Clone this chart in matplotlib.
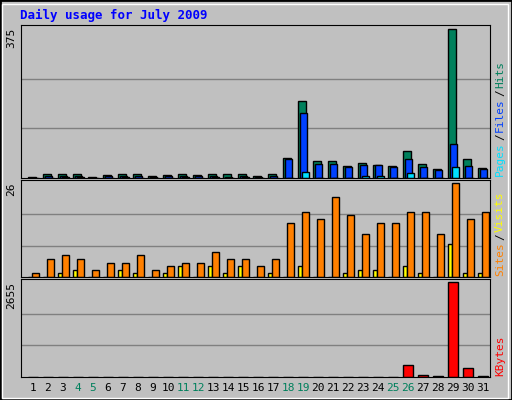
import matplotlib.pyplot as plt
from matplotlib.patches import Rectangle

days = list(range(1, 32))
hits = [3, 10, 10, 10, 3, 8, 10, 10, 5, 8, 10, 8, 10, 10, 10, 5, 10, 51, 194, 43,
        43, 31, 38, 33, 31, 69, 36, 23, 375, 48, 26]
files = [1, 5, 4, 4, 1, 5, 4, 4, 2, 4, 4, 5, 4, 3, 4, 2, 4, 48, 163, 36,
         36, 28, 33, 33, 28, 48, 28, 20, 87, 31, 23]
pages = [0, 1, 2, 2, 0, 1, 2, 1, 0, 1, 3, 1, 3, 1, 3, 1, 1, 1, 15, 1,
         1, 1, 5, 5, 1, 13, 1, 1, 28, 1, 1]
sites = [1, 5, 6, 5, 2, 4, 4, 6, 2, 3, 4, 4, 7, 5, 5, 3, 5, 15, 18, 16,
         22, 17, 12, 15, 15, 18, 18, 12, 26, 16, 18]
visits = [0, 0, 1, 2, 0, 0, 2, 1, 0, 1, 3, 0, 3, 1, 3, 0, 1, 0, 3, 0,
          0, 1, 2, 2, 0, 3, 1, 0, 9, 1, 1]
kbytes = [0] * 25 + [329, 58, 29, 2655, 242, 29]
weekends = [4, 5, 11, 12, 18, 19, 25, 26]

W, H = 512, 400
fig = plt.figure(figsize=(5.12, 4.0), dpi=100)
fig.patch.set_facecolor('#C0C0C0')
fig.patches.append(Rectangle((0, 0), 1, 1, transform=fig.transFigure, fill=False,
                             edgecolor='black', lw=2))
fig.patches.append(Rectangle((2/W, 2/H), 1 - 6/W, 1 - 6/H, transform=fig.transFigure,
                             fill=False, edgecolor='white', lw=1))
mono = 'DejaVu Sans Mono'

def panel(top, bottom):
    ax = fig.add_axes([21/W, 1 - bottom/H, (490-21)/W, (bottom-top)/H])
    ax.set_facecolor('#C0C0C0')
    ax.set_xlim(0.2, 31.47)
    ax.set_xticks([])
    ax.set_yticks([])
    for s in ax.spines.values():
        s.set_color('black')
    return ax

def grid(ax, vmax):
    for f in (1/3, 2/3):
        ax.axhline(vmax * f, color='#808080', lw=1, zorder=0)
    ax.set_ylim(0, vmax * 1.03)

ax1 = panel(25, 178)
grid(ax1, 375)
kw = dict(edgecolor='black', lw=1, align='edge')
ax1.bar([d - 0.3 for d in days], hits, 0.47, color='#00805C', **kw)
ax1.bar([d - 0.17 for d in days], files, 0.47, color='#0040FF', **kw)
ax1.bar([d - 0.04 for d in days], pages, 0.47, color='#00E0FF', **kw)

ax2 = panel(180, 277)
grid(ax2, 26)
ax2.bar([d - 0.35 for d in days], visits, 0.27, color='#FFFF00', **kw)
ax2.bar([d - 0.08 for d in days], sites, 0.47, color='#FF8000', **kw)

ax3 = panel(279, 377)
grid(ax3, 2655)
ax3.bar([d - 0.33 for d in days], kbytes, 0.67, color='#FF0000', **kw)
ax3.set_xticks(days)
ax3.set_xticklabels([str(d) for d in days], fontsize=8, family=mono)
ax3.tick_params(length=0, pad=4)
for lbl, d in zip(ax3.get_xticklabels(), days):
    lbl.set_color('#00805C' if d in weekends else 'black')

fig.text(20/W, 1 - 15/H, 'Daily usage for July 2009', color='#0000FF',
         fontsize=9, weight='bold', family=mono, va='center')
for txt, y in (('375', 28), ('26', 183), ('2655', 282)):
    fig.text(11/W, 1 - y/H, txt, rotation=90, fontsize=8, family=mono,
             ha='center', va='top')

def side(parts, y):
    yy = 1 - y/H
    for t, c in parts:
        fig.text(500/W, yy, t, rotation=90, color=c, fontsize=8, family=mono,
                 ha='center', va='bottom')
        yy += (len(t) * 6.7 + 2) / H

side([('Pages', '#00E0FF'), ('/', 'black'), ('Files', '#0040FF'), ('/', 'black'),
      ('Hits', '#00805C')], 176)
side([('Sites', '#FF8000'), ('/', 'black'), ('Visits', '#FFFF00')], 276)
side([('KBytes', '#FF0000')], 376)

fig.savefig('out.png', dpi=100, facecolor=fig.get_facecolor())
